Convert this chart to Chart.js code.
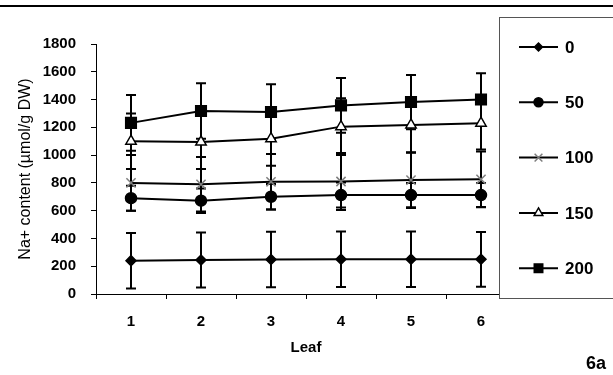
<!DOCTYPE html>
<html>
<head>
<meta charset="utf-8">
<script src="https://cdn.jsdelivr.net/npm/chart.js@4.4.0/dist/chart.umd.min.js"></script>
<style>
  body { margin: 0; background: #fff; }
  canvas { display: block; }
</style>
</head>
<body>
<canvas id="myChart" width="613" height="375"></canvas>
<script>
// data (Na+ content per leaf, 5 NaCl levels)
const leaves = ["1", "2", "3", "4", "5", "6"];
const seriesNames = ["0", "50", "100", "150", "200"];
const yTicks = [0, 200, 400, 600, 800, 1000, 1200, 1400, 1600, 1800];

const na0 = [240, 245, 248, 250, 250, 250];
const na50 = [690, 672, 700, 712, 712, 712];
const na100 = [800, 790, 808, 810, 820, 826];
const na150 = [1100, 1095, 1118, 1205, 1217, 1230];
const na200 = [1232, 1318, 1310, 1358, 1382, 1400];

const err0 = [200, 198, 200, 200, 200, 197];
const err50 = [90, 88, 92, 90, 88, 88];
const err100 = [200, 196, 200, 205, 200, 200];
const err150 = [200, 195, 195, 205, 200, 190];
const err200 = [200, 200, 200, 197, 195, 190];

const values = [na0, na50, na100, na150, na200];
const errors = [err0, err50, err100, err150, err200];

// marker look per series (chart size, legend size)
const markers = [
  { style: "rectRot", r: 5, lr: 4, fill: "#000", stroke: "#000" },
  { style: "circle", r: 5.5, lr: 4.5, fill: "#000", stroke: "#000" },
  { style: "crossRot", r: 6.5, lr: 5.5, fill: "#fff", stroke: "#7f7f7f" },
  { style: "triangle", r: 6, lr: 5, fill: "#fff", stroke: "#000" },
  { style: "rect", r: 7.5, lr: 6, fill: "#000", stroke: "#000" },
];

const FONT = "'Liberation Sans', Arial, sans-serif";

const errorBars = {
  id: "errorBars",
  beforeDatasetsDraw(chart) {
    const ctx = chart.ctx;
    const x = chart.scales.x;
    const y = chart.scales.y;
    ctx.save();
    ctx.strokeStyle = "#000";
    ctx.lineWidth = 2;
    values.forEach((vals, i) => {
      vals.forEach((v, j) => {
        const px = x.getPixelForValue(j);
        const top = y.getPixelForValue(v + errors[i][j]);
        const bot = y.getPixelForValue(v - errors[i][j]);
        ctx.beginPath();
        ctx.moveTo(px, top);
        ctx.lineTo(px, bot);
        ctx.moveTo(px - 5, top);
        ctx.lineTo(px + 5, top);
        ctx.moveTo(px - 5, bot);
        ctx.lineTo(px + 5, bot);
        ctx.stroke();
      });
    });
    ctx.restore();
  },
};

const frame = {
  id: "frame",
  afterDraw(chart) {
    const ctx = chart.ctx;
    ctx.save();
    // top rule
    ctx.strokeStyle = "#000";
    ctx.lineWidth = 2;
    ctx.beginPath();
    ctx.moveTo(0, 6);
    ctx.lineTo(613, 6);
    ctx.stroke();

    // legend box
    ctx.fillStyle = "#fff";
    ctx.fillRect(499, 17, 120, 282);
    ctx.strokeStyle = "#555";
    ctx.lineWidth = 1;
    ctx.strokeRect(499.5, 17.5, 120, 281);

    seriesNames.forEach((name, i) => {
      const cy = 47 + i * 55.3;
      ctx.strokeStyle = "#000";
      ctx.lineWidth = 2;
      ctx.beginPath();
      ctx.moveTo(519, cy);
      ctx.lineTo(558, cy);
      ctx.stroke();
      const m = markers[i];
      ctx.fillStyle = m.fill;
      ctx.strokeStyle = m.stroke;
      ctx.lineWidth = 1.5;
      Chart.helpers.drawPoint(ctx, { pointStyle: m.style, radius: m.lr, rotation: 0, borderWidth: 1.5 }, 538.5, cy);
      ctx.fillStyle = "#000";
      ctx.font = "bold 17px " + FONT;
      ctx.textAlign = "left";
      ctx.textBaseline = "middle";
      ctx.fillText(name, 565, cy + 1);
    });

    // panel tag
    ctx.font = "bold 18px " + FONT;
    ctx.textAlign = "right";
    ctx.fillText("6a", 606, 364);
    ctx.restore();
  },
};

const myChartRef = document.getElementById("myChart").getContext("2d");
new Chart(myChartRef, {
  type: "line",
  data: {
    labels: leaves,
    datasets: seriesNames.map((name, i) => ({
      label: name,
      data: values[i],
      fill: false,
      borderColor: "#000",
      borderWidth: 2,
      pointStyle: markers[i].style,
      pointRadius: markers[i].r,
      pointBackgroundColor: markers[i].fill,
      pointBorderColor: markers[i].stroke,
      pointBorderWidth: 1.5,
      tension: 0,
    })),
  },
  options: {
    responsive: false,
    animation: false,
    layout: { padding: { left: 0, top: 44, right: 97, bottom: 0 } },
    plugins: { legend: { display: false }, tooltip: { enabled: false } },
    scales: {
      x: {
        offset: true,
        grid: { offset: true, drawOnChartArea: false, tickLength: 5, color: "#000" },
        border: { color: "#000", width: 1 },
        ticks: { color: "#000", padding: 14, font: { family: FONT, size: 15, weight: "bold" } },
        title: {
          display: true,
          text: "Leaf",
          color: "#000",
          padding: { top: 0, bottom: 18 },
          font: { family: FONT, size: 15, weight: "bold" },
        },
        afterFit: (scale) => { scale.height = 81; },
      },
      y: {
        min: 0,
        max: 1800,
        afterBuildTicks: (scale) => { scale.ticks = yTicks.map((v) => ({ value: v })); },
        grid: { drawOnChartArea: false, tickLength: 5, color: "#000" },
        border: { color: "#000", width: 1 },
        ticks: {
          color: "#000",
          padding: 15,
          font: { family: FONT, size: 15, weight: "bold" },
          callback: (v) => String(v),
        },
        title: {
          display: true,
          text: "Na+ content (µmol/g DW)",
          color: "#000",
          padding: { top: 16, bottom: 0 },
          font: { family: FONT, size: 16, weight: "normal" },
        },
        afterFit: (scale) => { scale.width = 96; },
      },
    },
  },
  plugins: [errorBars, frame],
});
</script>
</body>
</html>
